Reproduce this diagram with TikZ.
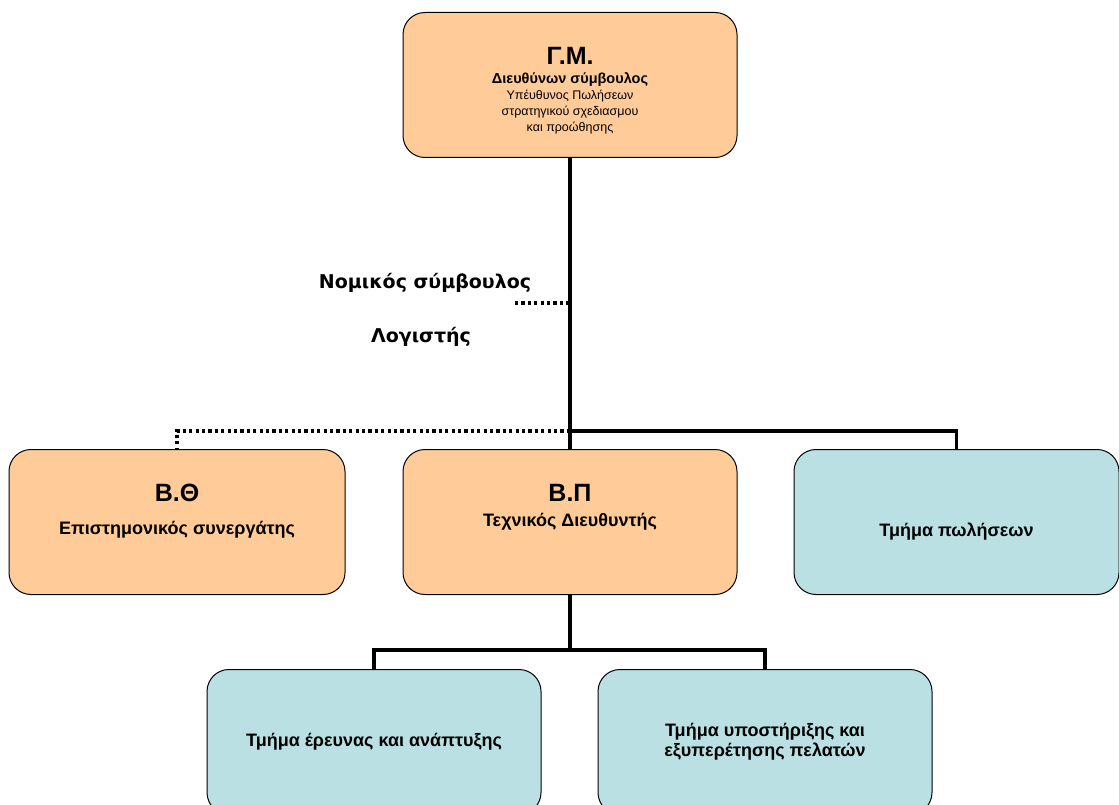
\documentclass[tikz,border=0pt]{standalone}
\usepackage{fontspec}
\setmainfont{Liberation Sans}
\newfontfamily\sidefont{DejaVu Sans}
\usepackage{xcolor}
\usepackage{tikz}
\usetikzlibrary{positioning}

\definecolor{peach}{RGB}{255,204,153}
\definecolor{paleblue}{RGB}{186,224,227}

\newcommand{\bigtag}{\bfseries\fontsize{25}{28}\selectfont}
\newcommand{\midtag}{\bfseries\fontsize{14.5}{16}\selectfont}
\newcommand{\smalltag}{\mdseries\fontsize{12.5}{16}\selectfont}
\newcommand{\boxtag}{\bfseries\fontsize{18}{20}\selectfont}

\begin{document}
\begin{tikzpicture}[
        x=1pt, y=1pt,
        node distance=57pt and 57pt,
        box/.style={draw, rectangle, rounded corners=22pt, line width=1pt,
                    minimum width=334pt, minimum height=145pt,
                    align=center, inner sep=0pt, font=\boxtag},
        boss/.style={box, fill=peach},
        unit/.style={box, fill=paleblue},
        tree/.style={line width=3.2pt},
        dots/.style={line width=3.2pt, dash pattern=on 3.2pt off 3.2pt},
        side/.style={font=\sidefont\bfseries\fontsize{19}{22}\selectfont}
    ]
    \clip (0,0) rectangle (1119,-805);
    \useasboundingbox (0,0) rectangle (1119,-805);

    \node[boss] (gm) at (570,-85) {%
        \bigtag Γ.Μ.\\[-1pt]
        \midtag Διευθύνων σύμβουλος\\[-4pt]
        \smalltag Υπέυθυνος Πωλήσεων\\[-4pt]
        \smalltag στρατηγικού σχεδιασμου\\[-4pt]
        \smalltag και προώθησης\\[-28pt]};

    \node[boss, below=291pt of gm] (bp) {%
        \bigtag Β.Π\\[5pt]
        Τεχνικός Διευθυντής\\[14pt]};
    \node[boss, left=of bp, minimum width=336pt] (bth) {%
        \bigtag Β.Θ\\[13pt]
        Επιστημονικός συνεργάτης\\[6pt]};
    \node[unit, right=56pt of bp, minimum width=325pt,
          text height=33pt, text depth=4pt] (sales) {Τμήμα πωλήσεων};

    \node[unit, below=74pt of bp, xshift=-196pt] (rd) {Τμήμα έρευνας και ανάπτυξης};
    \node[unit, below=74pt of bp, xshift=195pt] (cust) {Τμήμα υποστήριξης και\\εξυπερέτησης πελατών};

    \node[side] (legal) at (425,-283) {Νομικός σύμβουλος};
    \node[side] (acct)  at (421,-337) {Λογιστής};
    \coordinate (adv) at (515,-303);

    \coordinate[above=18pt of bp.north] (hub);
    \coordinate[below=55pt of bp.south] (split);

    % connectors
    \draw[tree] (gm) -- (bp);
    \draw[tree] (hub) -| (sales.north);
    \draw[dots] (hub) -| (bth.north);
    \draw[dots] (adv) -- (adv -| gm.south);
    \draw[tree] (bp) -- (split);
    \draw[tree] (rd.north) |- (split) -| (cust.north);
\end{tikzpicture}
\end{document}
